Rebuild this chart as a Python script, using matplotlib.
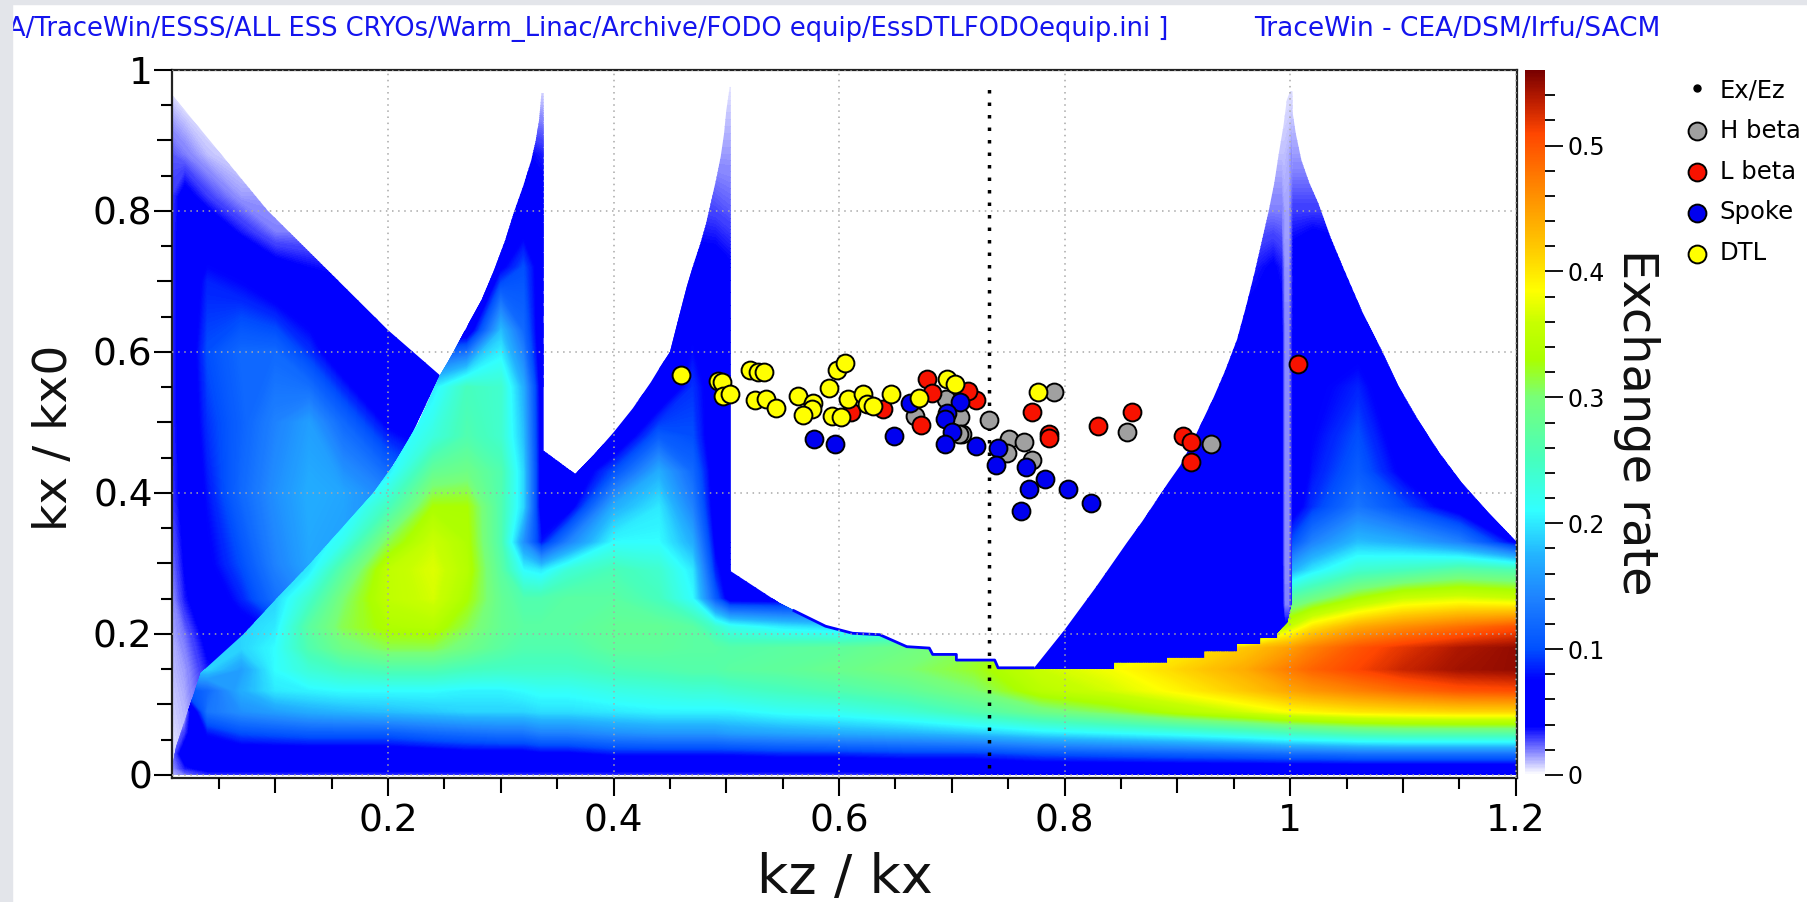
import numpy as np
import matplotlib
matplotlib.use('Agg')
import matplotlib.pyplot as plt
from matplotlib.colors import LinearSegmentedColormap, Normalize
from matplotlib.cm import ScalarMappable
from matplotlib.lines import Line2D
from matplotlib.patches import Polygon, Rectangle

# scatter points (kz/kx, kx/kx0)
hbeta_kz = [.791, .733, .855, .930, .695, .707, .709, .667, .751, .764, .749, .771, .706]
hbeta_kx = [.543, .503, .486, .469, .533, .508, .483, .509, .476, .472, .457, .447, .483]
lbeta_kz = [.860, .830, .786, .786, .771, .721, .714, .678, .682, .673, .905, .912, .912, .639, .611, 1.007]
lbeta_kx = [.515, .495, .483, .478, .515, .532, .545, .561, .542, .497, .481, .472, .444, .519, .515, .583]
spoke_kz = [.578, .596, .649, .663, .707, .696, .694, .700, .694, .721, .741, .739, .766, .783, .768, .803, .823, .761]
spoke_kx = [.477, .469, .481, .527, .529, .514, .505, .487, .469, .466, .464, .440, .437, .420, .406, .406, .386, .374]
dtl_kz = [.460, .493, .496, .497, .503, .521, .528, .533, .525, .535, .544, .564, .577, .576, .568, .591, .598,
          .605, .594, .602, .608, .621, .625, .630, .646, .671, .696, .703, .776]
dtl_kx = [.567, .559, .557, .537, .540, .575, .572, .572, .532, .533, .520, .537, .528, .519, .511, .549, .574,
          .585, .509, .508, .533, .541, .526, .523, .541, .535, .561, .555, .543]
ex_ez_kz = [.733, .733]
ex_ez_kx = [.01, .985]

# exchange rate colour scale
rate_nodes = [0, .038, .075, .1, .14, .175, .21, .25, .3, .33, .36, .385, .42, .47, .51, .535, .56]
rate_colors = ['#ffffff', '#0000ff', '#0000ff', '#0050ff', '#1e82ff', '#23b4ff', '#32ffff', '#46ffbe', '#78ff78',
               '#aaff00', '#c8ff00', '#ffff00', '#ffc800', '#ff8200', '#ff4600', '#be1e00', '#780000']

# main exchange rate table, one row per main_kx
main_kz = [.008, .02, .04, .07, .1, .13, .16, .2, .24, .27, .3, .32, .336, .36, .4, .44, .47, .49, .503, .55, .6,
           .66, .72, .78, .84, .9, .96, 1.001, 1.02, 1.06, 1.1, 1.15, 1.2]
main_kx = [0, .01, .03, .06, .09, .12, .15, .18, .21, .25, .29, .33, .38, .43, .48, .55, .63, .72, .8, .88, .95, 1]
main_rate = [
    [.01, .02, .03, .03, .03, .03, .03, .03, .03, .03, .03, .03, .03, .03, .03, .03, .03, .03, .03, .03, .03, .03, .035, .04, .04, .04, .04, .04, .04, .04, .04, .04, .04],
    [.015, .035, .045, .045, .045, .045, .045, .045, .045, .045, .045, .045, .045, .045, .045, .045, .045, .045, .045, .045, .045, .05, .05, .055, .055, .055, .055, .055, .055, .055, .055, .055, .055],
    [.02, .05, .055, .055, .055, .055, .055, .055, .06, .065, .065, .065, .07, .07, .08, .08, .08, .08, .08, .085, .085, .09, .09, .1, .105, .11, .115, .12, .12, .125, .125, .125, .125],
    [.01, .03, .08, .1, .105, .11, .11, .11, .12, .125, .13, .13, .14, .14, .15, .155, .155, .155, .16, .165, .17, .175, .185, .2, .21, .22, .235, .25, .255, .265, .27, .27, .27],
    [.005, .01, .13, .15, .16, .17, .175, .18, .185, .19, .19, .19, .195, .195, .2, .205, .205, .205, .205, .215, .22, .235, .26, .29, .31, .34, .365, .385, .39, .4, .405, .41, .41],
    [.005, .1, .12, .17, .2, .205, .21, .21, .21, .205, .205, .21, .215, .215, .225, .23, .235, .235, .24, .25, .26, .275, .3, .345, .365, .39, .42, .445, .455, .47, .485, .5, .505],
    [.19, .19, .19, .16, .21, .235, .25, .26, .26, .25, .245, .245, .245, .245, .255, .26, .265, .265, .27, .275, .285, .3, .32, .36, .38, .41, .44, .475, .49, .51, .53, .545, .55],
    [.19, .19, .19, .19, .21, .26, .29, .31, .31, .29, .27, .26, .26, .26, .275, .275, .27, .27, .265, .27, .275, .29, .31, .34, .36, .39, .42, .45, .47, .5, .52, .54, .55],
    [.19, .19, .19, .19, .2, .27, .31, .335, .34, .31, .28, .27, .27, .27, .28, .28, .27, .24, .22, .2, .19, .2, .2, .2, .2, .2, .2, .36, .4, .44, .46, .48, .5],
    [.19, .19, .19, .19, .19, .24, .3, .35, .365, .33, .28, .26, .26, .27, .27, .25, .21, .11, .06, .06, .06, .06, .06, .06, .06, .06, .06, .27, .29, .33, .36, .37, .36],
    [.19, .19, .19, .19, .19, .2, .27, .35, .37, .34, .27, .21, .2, .235, .255, .24, .2, .085, .055, .055, .055, .055, .055, .055, .055, .055, .055, .17, .2, .24, .25, .27, .26],
    [.19, .19, .19, .19, .19, .19, .22, .31, .36, .335, .26, .15, .08, .14, .21, .21, .17, .07, .05, .05, .05, .05, .05, .05, .05, .05, .05, .1, .14, .18, .17, .14, .07],
    [.19, .19, .19, .19, .19, .19, .19, .25, .33, .33, .26, .19, .06, .06, .17, .2, .14, .06, .05, .05, .05, .05, .05, .05, .05, .05, .05, .06, .09, .13, .1, .06, .04],
    [.19, .19, .19, .19, .19, .19, .19, .2, .28, .29, .26, .19, .06, .045, .1, .17, .12, .06, .05, .05, .05, .05, .05, .05, .05, .05, .05, .05, .08, .11, .07, .045, .04],
    [.19, .19, .19, .19, .19, .19, .19, .19, .23, .26, .24, .18, .06, .04, .045, .11, .1, .055, .05, .05, .05, .05, .05, .05, .05, .05, .05, .05, .075, .1, .06, .04, .04],
    [.19, .19, .19, .19, .19, .19, .19, .19, .2, .25, .24, .17, .06, .04, .04, .045, .09, .06, .05, .05, .05, .05, .05, .05, .05, .05, .05, .05, .07, .085, .05, .04, .04],
    [.05, .05, .05, .05, .05, .05, .05, .05, .05, .05, .18, .12, .055, .04, .04, .04, .07, .055, .045, .045, .045, .045, .045, .045, .045, .045, .045, .05, .065, .06, .04, .04, .04],
    [.04, .04, .04, .04, .04, .04, .04, .04, .04, .04, .07, .1, .06, .04, .04, .04, .045, .045, .04, .04, .04, .04, .04, .04, .04, .04, .04, .045, .055, .045, .04, .04, .04],
    [.03, .03, .03, .03, .03, .03, .03, .03, .03, .03, .05, .05, .045, .03, .03, .03, .03, .028, .025, .025, .025, .025, .025, .025, .025, .025, .025, .03, .03, .03, .03, .03, .03],
    [.02, .02, .02, .02, .02, .02, .02, .02, .02, .02, .04, .04, .035, .02, .02, .02, .02, .015, .015, .015, .015, .015, .015, .015, .015, .015, .015, .015, .015, .015, .02, .02, .02],
    [.01, .01, .01, .01, .01, .01, .01, .01, .01, .01, .012, .012, .012, .01, .01, .01, .01, .008, .008, .008, .008, .008, .008, .008, .008, .008, .008, .008, .008, .008, .008, .008, .008],
    [0, 0, 0, 0, 0, 0, 0, 0, 0, 0, 0, 0, 0, 0, 0, 0, 0, 0, 0, 0, 0, 0, 0, 0, 0, 0, 0, 0, 0, 0, 0, 0, 0],
]
main_edge_kz = [.0084, .0084, .012, .024, .034, .072, .101, .131, .159, .187, .205, .227, .246, .252, .258, .27, .283,
                .294, .304, .312, .32, .327, .331, .334, .336, .338, .338, .366, .383, .4, .417, .433, .441, .45, .458,
                .465, .471, .477, .482, .486, .491, .495, .498, .5, .503, .504, .504, .547,
                .588, .612, .636, .66, .68, .683, .704, .704, .738, .741, .844, .844, .891, .891, .924, .924, .953,
                .953, .974, .974, .989, .989, .998, 1.002, 1.002, 1.001, 1.005, 1.01, 1.017, 1.025, 1.036, 1.048,
                1.064, 1.081, 1.096, 1.113, 1.132, 1.152, 1.176, 1.2012, 1.2012]
main_edge_kx = [-.005, .01, .04, .097, .145, .2, .25, .3, .35, .4, .44, .5, .567, .583, .6, .636, .674, .716, .759, .8,
                .836, .872, .9, .929, .967, .967, .46, .427, .455, .486, .52, .557, .578, .6, .65, .693, .725, .754,
                .782, .81, .845, .877, .91, .943, .976, .976, .289, .244, .211, .201, .199,
                .182, .18, .171, .171, .163, .163, .15, .15, .159, .159, .166, .166, .175, .175, .185, .185, .194,
                .194, .201, .216, .244, .97, .953, .91, .872, .84, .811, .762, .716, .657, .603, .552, .505, .458,
                .415, .372, .33, -.005]

# thin blue rim along the floor of the white pocket
floor_kz = [.56, .588, .612, .636, .66, .68, .683, .704, .704, .738, .741, .772]
floor_kx = [.233, .211, .201, .199, .182, .18, .171, .171, .163, .163, .152, .152]

# left lobe above the ridge
left_kz = [.008, .02, .04, .07, .1, .13, .16, .2, .25]
left_kx = [0, .05, .1, .15, .2, .25, .3, .4, .5, .6, .7, .77, .82, .88, .97]
left_rate = [
    [.005, .01, .02, .03, .03, .03, .03, .03, .03],
    [.005, .01, .02, .04, .04, .04, .04, .04, .04],
    [.008, .012, .03, .05, .05, .05, .05, .05, .05],
    [.01, .015, .035, .05, .055, .06, .06, .06, .06],
    [.012, .022, .045, .06, .075, .09, .1, .1, .1],
    [.015, .035, .055, .085, .125, .15, .15, .15, .15],
    [.02, .04, .07, .1, .14, .165, .16, .15, .15],
    [.03, .045, .08, .12, .15, .17, .165, .14, .1],
    [.03, .05, .09, .115, .14, .16, .12, .07, .05],
    [.03, .05, .1, .12, .12, .09, .05, .045, .045],
    [.03, .05, .085, .075, .055, .045, .04, .04, .04],
    [.03, .05, .055, .035, .02, .02, .02, .02, .02],
    [.03, .045, .03, .015, .015, .015, .015, .015, .015],
    [.025, .02, .01, .005, .005, .005, .005, .005, .005],
    [.005, 0, 0, 0, 0, 0, 0, 0, 0],
]
left_edge_kz = [.0084, .0084, .093, .2, .246, .22, .15, .06, .02]
left_edge_kx = [-.005, .965, .801, .631, .567, .48, .3, .1, -.005]

# blue wedge left of kz/kx = 1
wedge_kz = [.77, .82, .86, .9, .94, .97, .985, .992, .995, .999, 1.003]
wedge_kx = [.14, .2, .24, .3, .38, .46, .55, .62, .72, .8, .88, .97]
wedge_rate = [
    [.05, .05, .05, .05, .05, .05, .05, .05, .05, .05, .05],
    [.05, .05, .05, .055, .055, .05, .05, .05, .05, .05, .05],
    [.04, .05, .055, .06, .06, .055, .05, .05, .02, .02, .04],
    [.04, .05, .055, .065, .065, .055, .05, .045, .018, .018, .04],
    [.03, .05, .05, .06, .065, .055, .05, .045, .018, .018, .04],
    [.03, .04, .05, .05, .06, .055, .05, .045, .018, .018, .04],
    [.03, .03, .03, .045, .05, .05, .05, .045, .018, .018, .04],
    [.03, .03, .03, .04, .04, .045, .05, .045, .018, .018, .04],
    [.03, .03, .03, .03, .03, .035, .04, .035, .016, .016, .035],
    [.02, .02, .02, .02, .02, .02, .02, .02, .014, .014, .03],
    [.01, .01, .01, .01, .01, .01, .01, .01, .01, .012, .02],
    [.005, .005, .005, .005, .005, .005, .005, .005, .005, .005, .005],
]
wedge_edge_kz = [.772, .8, .828, .855, .869, .882, .892, .903, .915, .932, .942, .953, .961, .969, .975, .981, .986,
                 .99, .994, .997, 1.0, 1.002, 1.002]
wedge_edge_kx = [.15, .206, .267, .329, .36, .391, .415, .44, .478, .535, .572, .618, .665, .716, .758, .8, .84, .882,
                 .92, .957, .97, .97, .15]

x_major = [.2, .4, .6, .8, 1, 1.2]
x_labels = ['0.2', '0.4', '0.6', '0.8', '1', '1.2']
y_major = [0, .2, .4, .6, .8, 1]
y_labels = ['0', '0.2', '0.4', '0.6', '0.8', '1']
bar_major = [0, .1, .2, .3, .4, .5]
bar_labels = ['0', '0.1', '0.2', '0.3', '0.4', '0.5']
RATE_MAX = .56

W, H = 1808, 902
fig = plt.figure(figsize=(W / 100, H / 100), dpi=100, facecolor='white')

# the grey window edges of the screenshot
fig.add_artist(Rectangle((0, 0), 12 / W, 1, transform=fig.transFigure, color='#e3e5ea', zorder=10))
fig.add_artist(Rectangle((0, 1 - 4 / H), 1, 4 / H, transform=fig.transFigure, color='#e3e5ea', zorder=10))

fig.text(8 / W, 1 - 29 / H, 'A/TraceWin/ESSS/ALL ESS CRYOs/Warm_Linac/Archive/FODO equip/EssDTLFODOequip.ini ]',
         color='#1414ee', fontsize=18.5, va='center', ha='left')
fig.text(1254 / W, 1 - 29 / H, 'TraceWin - CEA/DSM/Irfu/SACM', color='#1414ee', fontsize=19, va='center', ha='left')

ax = fig.add_axes([172 / W, 1 - 778 / H, (1517 - 172) / W, 708 / H])
ax.set_xlim(.0084, 1.2012)
ax.set_ylim(-.0043, 1)

cmap = LinearSegmentedColormap.from_list('rate', [(n / RATE_MAX, c) for n, c in zip(rate_nodes, rate_colors)], N=512)
norm = Normalize(0, RATE_MAX)
levels = np.linspace(0, RATE_MAX, 561)


def draw_field(kz, kx, rate, edge_kz, edge_kx):
    cs = ax.contourf(kz, kx, np.array(rate), levels=levels, cmap=cmap, norm=norm, extend='both',
                     antialiased=False, zorder=1)
    cs.set_clip_path(Polygon(np.column_stack([edge_kz, edge_kx]), transform=ax.transData))


draw_field(left_kz, left_kx, left_rate, left_edge_kz, left_edge_kx)
draw_field(wedge_kz, wedge_kx, wedge_rate, wedge_edge_kz, wedge_edge_kx)
draw_field(main_kz, main_kx, main_rate, main_edge_kz, main_edge_kx)
ax.plot(floor_kz, floor_kx, color='#0000ff', lw=2, solid_joinstyle='round', zorder=1.5)

ax.set_xticks(x_major, x_labels)
ax.set_yticks(y_major, y_labels)
ax.set_xticks([i * .05 for i in range(1, 24) if i % 4], minor=True)
ax.set_yticks([i * .05 for i in range(1, 20) if i % 4], minor=True)
ax.tick_params(which='major', length=13, width=1.5, labelsize=27, pad=5)
ax.tick_params(which='minor', length=8, width=1.5)
ax.tick_params(axis='y', which='major', pad=1)
for axis in [ax.xaxis, ax.yaxis]:
    for tick, loc in zip(axis.get_minor_ticks(), axis.get_minorticklocs()):
        if round(loc * 20) % 2 == 0:
            tick.tick1line.set_markersize(11)
ax.grid(True, which='major', color='#a8a8a8', lw=1.1, linestyle=(0, (1, 3)))
ax.set_axisbelow(False)
for spine in ax.spines.values():
    spine.set_linewidth(1.6)
    spine.set_color('#222222')

ax.plot(ex_ez_kz, ex_ez_kx, color='black', lw=2.5, linestyle=(0, (1, 2.6)), zorder=4)
mk = dict(s=165, edgecolors='black', linewidths=1.4, zorder=5)
s_h = ax.scatter(hbeta_kz, hbeta_kx, c='#a0a0a0', label='H beta', **mk)
s_l = ax.scatter(lbeta_kz, lbeta_kx, c='#f81200', label='L beta', **mk)
s_s = ax.scatter(spoke_kz, spoke_kx, c='#0000f0', label='Spoke', **mk)
s_d = ax.scatter(dtl_kz, dtl_kx, c='#ffff00', label='DTL', **mk)

ax.set_xlabel('kz / kx', fontsize=39, color='#111111')
ax.set_ylabel('kx / kx0', fontsize=34, color='#111111')
ax.xaxis.set_label_coords(.5, -.105)
ax.yaxis.set_label_coords(-.071, .48)

cax = fig.add_axes([1525 / W, 1 - 775 / H, 20 / W, 705 / H])
cb = fig.colorbar(ScalarMappable(norm=norm, cmap=cmap), cax=cax)
cb.outline.set_visible(False)
cb.set_ticks(bar_major, labels=bar_labels)
cax.set_yticks([i * .02 for i in range(1, 28) if i % 5], minor=True)
cax.tick_params(which='major', length=13, width=1.3, labelsize=17, pad=3)
cax.tick_params(which='minor', length=7.2, width=1.3)
fig.text(1637 / W, 1 - 422 / H, 'Exchange rate', fontsize=34.5, rotation=-90, ha='center', va='center', color='#111111')

ex_handle = Line2D([], [], ls='none', marker='o', ms=5, color='black', label='Ex/Ez')
fig.legend(handles=[ex_handle, s_h, s_l, s_s, s_d], loc='upper left', bbox_to_anchor=(1682 / W, 1 - 78 / H),
           frameon=False, fontsize=17.5, labelspacing=.69, handletextpad=.35, handlelength=1.2, borderpad=0,
           borderaxespad=0, scatterpoints=1)

fig.savefig('out.png', dpi=100)
